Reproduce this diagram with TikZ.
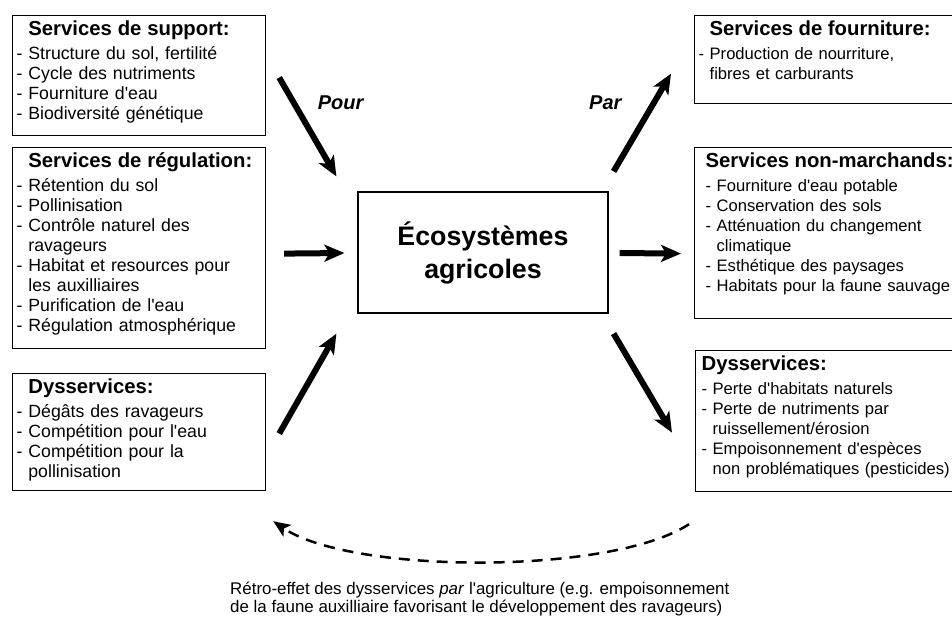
\documentclass[tikz,border=0pt]{standalone}
\usepackage{fontspec}
\setmainfont{Liberation Sans}
\usetikzlibrary{arrows.meta,calc}

\newcommand{\bodyfont}{\fontsize{17.7}{20}\selectfont}
\newcommand{\rbodyfont}{\fontsize{16.6}{20}\selectfont}
\newcommand{\headfont}{\fontsize{20.3}{24}\selectfont\bfseries}
\newcommand{\contd}{\phantom{- }}
\newcommand{\ap}{\textquotesingle}

\begin{document}
\begin{tikzpicture}[x=1pt, y=-1pt,
    svcbox/.style={draw, line width=1.2pt, anchor=north west, align=left,
      inner xsep=4pt, inner ysep=5pt, text height=15pt, font=\bodyfont},
    rbox/.style={svcbox, font=\rbodyfont},
    arr/.style={line width=6pt, -{Stealth[length=20pt,width=17pt,inset=5pt]}},
    fb/.style={line width=2.5pt, dash pattern=on 11pt off 8pt,
      -{Stealth[length=17pt,width=14pt,inset=4pt]}},
    lbl/.style={font=\fontsize{20}{24}\selectfont\bfseries\itshape}]
    \useasboundingbox (0,0) rectangle (952,619);
    \clip (0,0) rectangle (952,619);

    % left side: what the agro-ecosystem receives
    \node[svcbox, text width=245pt, text depth=95pt] (support) at (12,15)
        {\contd{\headfont Services de support:}\\[4pt]
         - Structure du sol, fertilité\\
         - Cycle des nutriments\\
         - Fourniture d\ap eau\\
         - Biodiversité génétique};
    \node[svcbox, text width=245pt, text depth=176pt] (regul) at (12,147)
        {\contd{\headfont Services de régulation:}\\[4pt]
         - Rétention du sol\\
         - Pollinisation\\
         - Contrôle naturel des\\
         \contd ravageurs\\
         - Habitat et resources pour\\
         \contd les auxilliaires\\
         - Purification de l\ap eau\\
         - Régulation atmosphérique};
    \node[svcbox, text width=245pt, text depth=92pt] (dysl) at (12,373)
        {\contd{\headfont Dysservices:}\\[4pt]
         - Dégâts des ravageurs\\
         - Compétition pour l\ap eau\\
         - Compétition pour la\\
         \contd pollinisation};

    % centre
    \node[draw, line width=1.2pt, minimum width=250pt, minimum height=121pt,
        align=center, font=\fontsize{26.75}{33}\selectfont\bfseries] (eco) at (483,252.5)
        {Écosystèmes\\agricoles};

    % right side: what it produces
    \node[rbox, text width=280pt, text depth=63pt] (fourn) at (694,15)
        {\contd{\headfont Services de fourniture:}\\[4pt]
         - Production de nourriture,\\
         \contd fibres et carburants};
    \node[rbox, inner xsep=11pt, text width=280pt, text depth=146pt] (nonm) at (694,147)
        {{\headfont Services non-marchands:}\\[4pt]
         - Fourniture d\ap eau potable\\
         - Conservation des sols\\
         - Atténuation du changement\\
         \contd climatique\\
         - Esthétique des paysages\\
         - Habitats pour la faune sauvage};
    \node[rbox, inner xsep=6pt, text width=280pt, text depth=116pt] (dysr) at (695,350)
        {{\headfont Dysservices:}\\[4pt]
         - Perte d\ap habitats naturels\\
         - Perte de nutriments par\\
         \contd ruissellement/érosion\\
         - Empoisonnement d\ap espèces\\
         \contd non problématiques (pesticides)};

    \draw[arr] ($(support.east)+(13,2)$) to node[pos=0.25, right=18pt, lbl] {Pour} ($(eco.north west)+(-21,-15)$);
    \draw[arr] ($(regul.east)+(18,5.5)$) to ($(eco.west)+(-13,0.5)$);
    \draw[arr] ($(dysl.east)+(13,1.5)$) to ($(eco.south west)+(-21,20)$);
    \draw[arr] ($(eco.north east)+(5,-20)$) to node[pos=0.7, left=26pt, lbl] {Par} ($(fourn.west)+(-23,14)$);
    \draw[arr] ($(eco.east)+(11,0.5)$) to ($(nonm.west)+(-13,20.5)$);
    \draw[arr] ($(eco.south east)+(5,20)$) to ($(dysr.west)+(-23,11.5)$);

    % feedback of the dysservices
    \draw[fb] ($(dysr.south west)+(-6,32)$) .. controls +(-78,51) and +(78,53) .. ($(dysl.south east)+(7,30)$);
    \node[anchor=north west, inner sep=0pt, align=left, font=\fontsize{16.9}{18}\selectfont] (retro) at (230,582)
        {Rétro-effet des dysservices \textit{par} l\ap agriculture (e.g. empoisonnement\\
         de la faune auxilliaire favorisant le développement des ravageurs)};
\end{tikzpicture}
\end{document}
